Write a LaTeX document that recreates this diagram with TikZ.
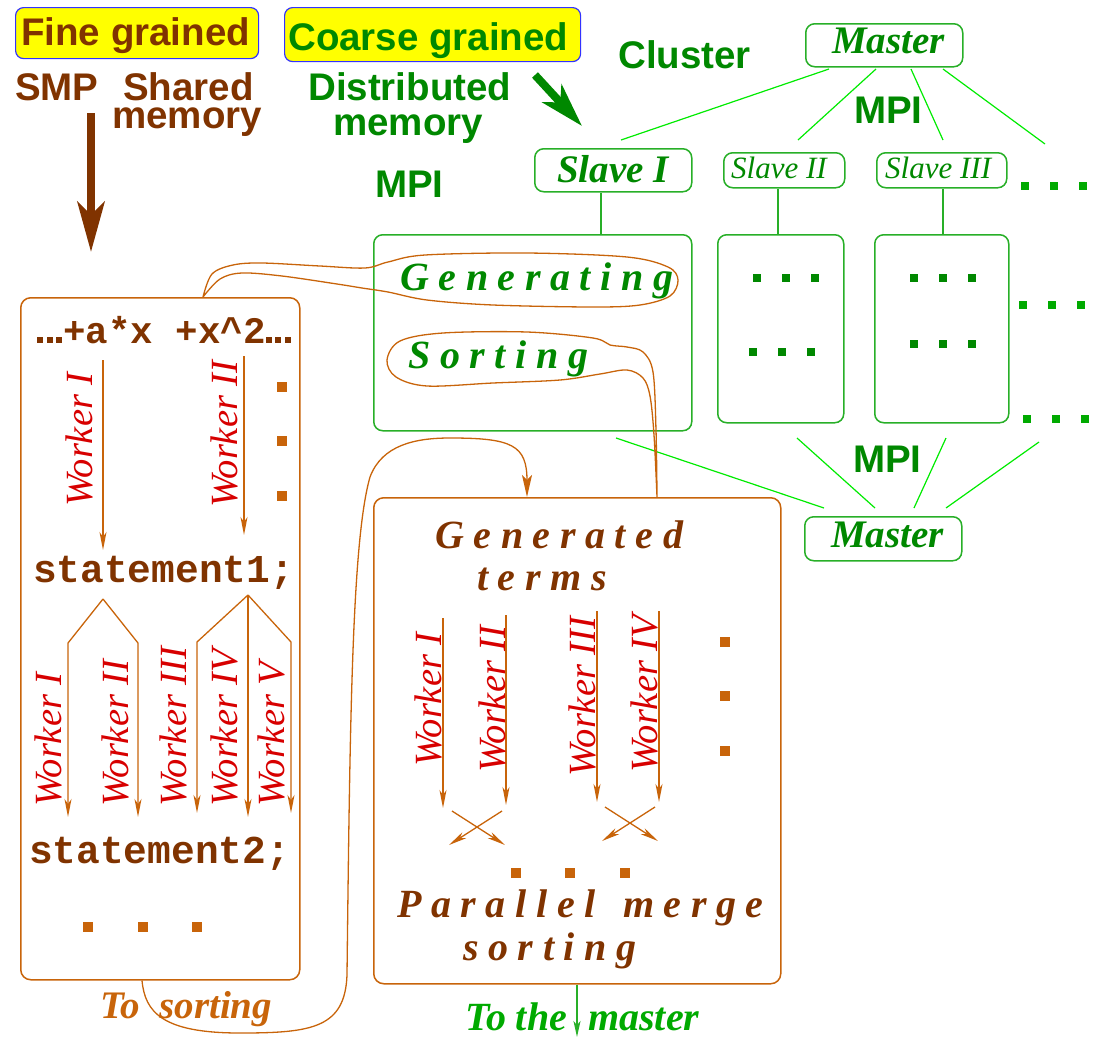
\documentclass[tikz,border=0pt]{standalone}
\usepackage{fontspec}
\setmainfont{Liberation Serif}
\setsansfont{Liberation Sans}
\setmonofont{Liberation Mono}
\newfontfamily\spacedfont[LetterSpace=24]{Liberation Serif}
\usetikzlibrary{arrows.meta}
\definecolor{brownT}{RGB}{128,51,0}
\definecolor{orangeL}{RGB}{200,100,10}
\definecolor{redW}{RGB}{215,0,0}
\definecolor{greenT}{RGB}{0,136,0}
\definecolor{greenB}{RGB}{40,175,40}
\definecolor{greenL}{RGB}{0,235,0}
\definecolor{greenM}{RGB}{0,170,0}
\definecolor{yel}{RGB}{255,255,0}
\definecolor{blueB}{RGB}{50,50,255}
\newcommand{\mdots}{\rule{6pt}{6pt}\hspace{3.5pt}\rule{6pt}{6pt}\hspace{3.5pt}\rule{6pt}{6pt}}
\tikzset{
  txt/.style={inner sep=0pt, anchor=base west},
  sansT/.style={txt, font={\sffamily\bfseries\fontsize{38.5}{40}\selectfont}},
  monoT/.style={txt, text=brownT, font={\ttfamily\bfseries\fontsize{39.5}{42}\selectfont}},
  spacedT/.style={txt, font={\spacedfont\bfseries\itshape\fontsize{40}{42}\selectfont}},
  bitT/.style={txt, font={\bfseries\itshape\fontsize{39}{42}\selectfont}},
  worker/.style={txt, rotate=90, text=redW, font={\itshape\fontsize{38.5}{40}\selectfont}},
  ybox/.style={draw=blueB, fill=yel, line width=1.2pt, rounded corners=8pt, inner sep=0pt, anchor=north west},
  gbox/.style={draw=greenB, line width=1.5pt, rounded corners=9pt, inner sep=0pt, anchor=north west},
  bbox/.style={draw=orangeL, line width=1.5pt, rounded corners=10pt, inner sep=0pt, anchor=north west},
  gline/.style={draw=greenL, line width=1.2pt},
  vline/.style={draw=greenB, line width=1.3pt},
  oline/.style={draw=orangeL, line width=1.3pt},
  warrow/.style={oline, -{Stealth[length=18pt,width=7pt,inset=5pt]}},
  bdot/.style={fill=orangeL, minimum size=10pt, inner sep=0pt},
  gdot/.style={fill=greenT, minimum size=8.5pt, inner sep=0pt},
  ldot/.style={fill=greenM, minimum size=8.5pt, inner sep=0pt}
}
\begin{document}
\begin{tikzpicture}[x=1pt,y=-1pt]
\useasboundingbox (0,0) rectangle (1098,1037);

% ---------- headers ----------
\node[ybox, minimum width=243pt, minimum height=51pt] (fine) at (15,7) {};
\node[sansT, text=brownT] (fineT) at (21,45) {Fine grained};
\node[ybox, minimum width=296pt, minimum height=54pt] (coarse) at (284,7) {};
\node[sansT, text=greenT] (coarseT) at (288,50) {Coarse grained};

\node[sansT, text=brownT] (smp) at (15,100) {SMP};
\node[sansT, text=brownT] (shared) at (123,100) {Shared};
\node[sansT, text=brownT] (smem) at (112,128) {memory};
\node[sansT, text=greenT] (distr) at (308,100) {Distributed};
\node[sansT, text=greenT] (dmem) at (333,135) {memory};
\node[sansT, text=greenT] (mpi1) at (375,197) {MPI};
\node[sansT, text=greenT] (cluster) at (618,68) {Cluster};
\node[sansT, text=greenT] (mpi2) at (854,123) {MPI};
\node[sansT, text=greenT] (mpi3) at (853,472) {MPI};

\coordinate (ba1) at (91,113);
\coordinate (ba2) at (91,252);
\draw[brownT, line width=8pt, -{Stealth[length=50pt,width=27pt,inset=13pt]}] (ba1) -- (ba2);
\coordinate (ga1) at (535,75);
\coordinate (ga2) at (582,126);
\draw[greenT, line width=8pt, -{Stealth[length=44pt,width=26pt,inset=12pt]}] (ga1) -- (ga2);

% ---------- cluster ----------
\node[gbox, minimum width=157pt, minimum height=43pt] (m1) at (805,23) {};
\node[bitT, text=greenT] (m1T) at (832,53) {Master};
\node[gbox, minimum width=157pt, minimum height=43pt] (s1) at (534,148) {};
\node[bitT, text=greenT] (s1T) at (557,182) {Slave I};
\node[gbox, minimum width=121pt, minimum height=35pt] (s2) at (723,152) {};
\node[txt, text=greenT, font={\itshape\fontsize{31}{33}\selectfont}] (s2T) at (731,178) {Slave II};
\node[gbox, minimum width=130pt, minimum height=35pt] (s3) at (876,152) {};
\node[txt, text=greenT, font={\itshape\fontsize{31}{33}\selectfont}] (s3T) at (885,178) {Slave III};

\coordinate (a1) at (829,69);  \coordinate (b1) at (621,140);
\coordinate (a2) at (876,69);  \coordinate (b2) at (798,140);
\coordinate (a3) at (911,69);  \coordinate (b3) at (943,140);
\coordinate (a4) at (943,69);  \coordinate (b4) at (1045,144);
\draw[gline] (a1) -- (b1);
\draw[gline] (a2) -- (b2);
\draw[gline] (a3) -- (b3);
\draw[gline] (a4) -- (b4);

\node[ldot] at (1025,186) {};
\node[ldot] at (1054,186) {};
\node[ldot] at (1083,186) {};

\node[gbox, minimum width=318pt, minimum height=196pt] (g1) at (373,234) {};
\node[gbox, minimum width=126pt, minimum height=188pt] (g2) at (717,234) {};
\node[gbox, minimum width=134pt, minimum height=188pt] (g3) at (874,234) {};

\coordinate (x1) at (601,0);
\coordinate (x2) at (778,0);
\coordinate (x3) at (943,0);
\draw[vline] (s1.south -| x1) -- (g1.north -| x1);
\draw[vline] (s2.south -| x2) -- (g2.north -| x2);
\draw[vline] (s3.south -| x3) -- (g3.north -| x3);

\foreach \x in {757,786,815} \node[gdot] at (\x,278) {};
\foreach \x in {753,782,811} \node[gdot] at (\x,352) {};
\foreach \x in {914,943,972} \node[gdot] at (\x,278) {};
\foreach \x in {914,943,972} \node[gdot] at (\x,344) {};
\foreach \x in {1023,1052,1081} \node[ldot] at (\x,305) {};
\foreach \x in {1027,1056,1085} \node[ldot] at (\x,419) {};

\node[gbox, minimum width=157pt, minimum height=44pt] (m2) at (804,516) {};
\node[bitT, text=greenT] (m2T) at (831,547) {Master};
\coordinate (c1) at (616,438); \coordinate (d1) at (824,508);
\coordinate (c2) at (797,438); \coordinate (d2) at (875,508);
\coordinate (c3) at (946,438); \coordinate (d3) at (914,508);
\coordinate (c4) at (1039,442); \coordinate (d4) at (946,508);
\draw[gline] (c1) -- (d1);
\draw[gline] (c2) -- (d2);
\draw[gline] (c3) -- (d3);
\draw[gline] (c4) -- (d4);

\node[spacedT, text=greenT] (gen) at (400,290) {Generating};
\node[spacedT, text=greenT] (sort) at (408,368) {Sorting};

% ---------- left box (SMP) ----------
\node[bbox, minimum width=279pt, minimum height=682pt] (lbox) at (20,297) {};
\node[monoT, font={\ttfamily\bfseries\fontsize{37.5}{40}\selectfont}] (expr) at (37,343) {\mdots\hspace{1pt}+a*x +x\textasciicircum 2\mdots};
\node[monoT] (st1) at (33,582) {statement1;};
\node[monoT] (st2) at (29,863) {statement2;};

\draw[warrow] (103,360) -- (103,550);
\draw[warrow] (244,356) -- (244,535);
\node[worker] at (92,507) {Worker I};
\node[worker] at (237,508) {Worker II};
\foreach \y in {387,441,496} \node[bdot] at (282,\y) {};

\coordinate (f1) at (103,599);
\coordinate (f2) at (248,595);
\draw[warrow] (f1) -- (68,643) -- (68,817);
\draw[warrow] (f1) -- (138,643) -- (138,817);
\draw[warrow] (f2) -- (197,642) -- (197,813);
\draw[warrow] (f2) -- (248,817);
\draw[warrow] (f2) -- (291,642) -- (291,813);
\node[worker] at (61,807) {Worker I};
\node[worker] at (128,807) {Worker II};
\node[worker] at (186,807) {Worker III};
\node[worker] at (237,807) {Worker IV};
\node[worker] at (284,807) {Worker V};
\foreach \x in {88,143,197} \node[bdot] at (\x,927) {};

\node[txt, text=orangeL, font={\bfseries\itshape\fontsize{39}{42}\selectfont}] (tosort) at (100,1018) {To\hspace{0.5em}sorting};

% ---------- merge box ----------
\node[bbox, minimum width=407pt, minimum height=486pt] (mbox) at (373,497) {};
\node[spacedT, text=brownT] at (435,548) {Generated};
\node[spacedT, text=brownT] at (477,590) {terms};
\draw[warrow] (443,618) -- (443,808);
\draw[warrow] (506,615) -- (506,805);
\draw[warrow] (597,611) -- (597,802);
\draw[warrow] (659,611) -- (659,802);
\node[worker] at (441,767) {Worker I};
\node[worker] at (505,773) {Worker II};
\node[worker] at (595,777) {Worker III};
\node[worker] at (657,773) {Worker IV};
\draw[warrow] (452,811) -- (505,845);
\draw[warrow] (502,811) -- (449,845);
\draw[warrow] (605,807) -- (658,841);
\draw[warrow] (655,807) -- (602,841);
\foreach \y in {642,696,751} \node[bdot] at (725,\y) {};
\foreach \x in {516,570,625} \node[bdot] at (\x,873) {};
\node[spacedT, text=brownT] at (397,917) {Parallel\hspace{8pt} merge};
\node[spacedT, text=brownT] at (463,960) {sorting};

\coordinate (tm) at (577,1037);
\draw[draw=greenB, line width=1.5pt, -{Stealth[length=16pt,width=7pt,inset=4pt]}] (mbox.south -| tm) -- (tm);
\node[txt, text=greenM, font={\bfseries\itshape\fontsize{40}{44}\selectfont}] (tomaster) at (465,1030) {To the\hspace{0.53em}master};

% ---------- lassos and connectors ----------
\coordinate (xg) at (203,0);
\draw[oline] plot[smooth, tension=0.55] coordinates {(lbox.north -| xg) (212,274) (233,265) (262,263) (320,266) (365,268) (388,262) (425,255) (527,253) (627,257) (668,267) (678,280) (670,296) (640,305) (593,307) (493,305) (427,300) (388,292) (362,288) (337,284) (282,276) (242,273) (220,279) (lbox.north -| xg)};

\coordinate (xs) at (657,0);
\draw[oline] plot[smooth, tension=0.55] coordinates {(mbox.north -| xs) (656,430) (653,372) (643,352) (627,347) (610,345) (593,338) (527,332) (443,333) (400,341) (387,360) (396,377) (427,386) (493,383) (560,380) (600,374) (627,370) (643,378) (650,396) (654,435) (mbox.north -| xs)};

\coordinate (xt) at (142,0);
\coordinate (xa) at (527,0);
\draw[oline, -{Stealth[length=22pt,width=10pt,inset=5pt]}] (lbox.south -| xt) .. controls (145,1012) and (162,1033) .. (240,1033) .. controls (312,1033) and (345,1028) .. (347,975) .. controls (350,720) and (352,540) .. (370,477) .. controls (382,445) and (415,438) .. (450,438) .. controls (512,438) and (527,445) .. (mbox.north -| xa);
\end{tikzpicture}
\end{document}
